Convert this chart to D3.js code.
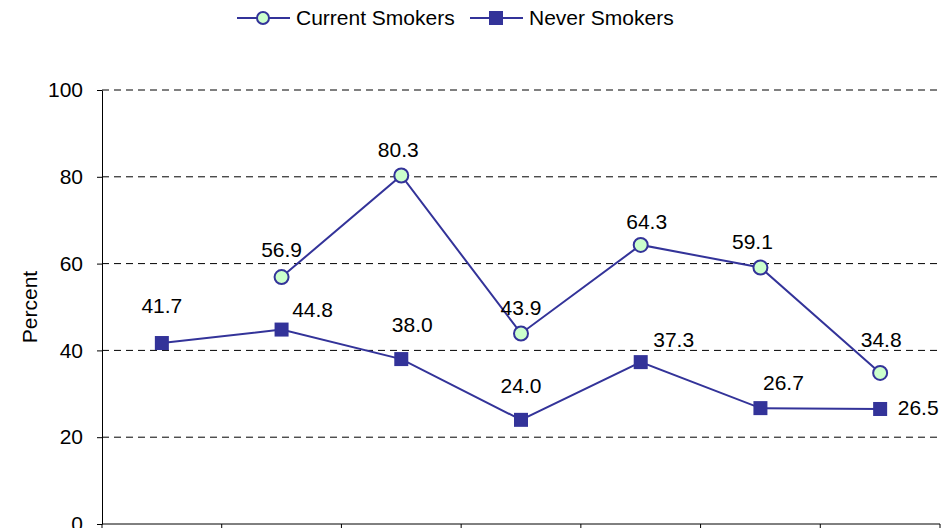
<!DOCTYPE html>
<html>
<head>
  <meta charset="utf-8">
  <title>Current vs Never Smokers</title>
  <style>
    body { margin: 0; background: #fff; }
    svg { display: block; font-family: Arial, "Liberation Sans", sans-serif; }
    .grid line { stroke: #000; stroke-dasharray: 7,5; stroke-width: 1; }
    .axis path, .axis line { stroke: #000; stroke-width: 1; }
    .axis text { font-size: 21px; fill: #000; }
    .lbl { font-size: 21px; fill: #000; }
  </style>
  <script src="https://d3js.org/d3.v7.min.js"></script>
</head>
<body>
<svg width="951" height="528"></svg>
<script>
// data
var categories = ["G1", "G2", "G3", "G4", "G5", "G6", "G7"];
var currentSmokers = [null, 56.9, 80.3, 43.9, 64.3, 59.1, 34.8];
var neverSmokers = [41.7, 44.8, 38.0, 24.0, 37.3, 26.7, 26.5];
var yTicks = [0, 20, 40, 60, 80, 100];

// label nudges (dx, dy from the marker) - Excel labels were moved by hand
var nudgeCurrent = [null, [0, -27], [-3, -26], [0, -26], [6, -23], [-8, -26], [1, -33]];
var nudgeNever = [[0, -37], [31, -20], [11, -34], [0, -34], [33, -22], [23, -25], [38, -1]];

var navy = "#333399", mint = "#ccffcc";

var svg = d3.select("svg"),
    margin = {top: 90, right: 11, bottom: 4, left: 102},
    width = +svg.attr("width") - margin.left - margin.right,
    height = +svg.attr("height") - margin.top - margin.bottom;

var x = d3.scaleBand().domain(categories).range([0, width]),
    y = d3.scaleLinear().domain([0, 100]).range([height, 0]);

var g = svg.append("g")
    .attr("transform", "translate(" + margin.left + "," + margin.top + ")");

// gridlines
g.append("g").attr("class", "grid")
  .selectAll("line")
  .data(yTicks.filter(function(d) { return d > 0; }))
  .enter().append("line")
    .attr("x1", 0).attr("x2", width)
    .attr("y1", function(d) { return y(d); })
    .attr("y2", function(d) { return y(d); });

// y axis
g.append("g")
    .attr("class", "axis")
    .call(d3.axisLeft(y).tickValues(yTicks).tickSize(5).tickPadding(14).tickSizeOuter(0));

// x axis with ticks at band boundaries
var xa = g.append("g").attr("class", "axis")
    .attr("transform", "translate(0," + height + ")");
xa.append("line").attr("x1", 0).attr("x2", width);
xa.selectAll(".tk")
  .data(categories.map(function(c) { return x(c); }).concat([width]))
  .enter().append("line")
    .attr("x1", function(d) { return d; }).attr("x2", function(d) { return d; })
    .attr("y1", 0).attr("y2", 6);

svg.append("text")
    .attr("class", "lbl")
    .attr("transform", "translate(37," + (margin.top + height / 2) + ") rotate(-90)")
    .attr("text-anchor", "middle")
    .text("Percent");

var cx = function(i) { return x(categories[i]) + x.bandwidth() / 2; };

function drawSeries(vals, nudge, marker) {
  var pts = vals.map(function(v, i) { return {i: i, v: v}; })
      .filter(function(d) { return d.v !== null; });

  g.append("path")
      .datum(pts)
      .attr("fill", "none")
      .attr("stroke", navy)
      .attr("stroke-width", 2)
      .attr("d", d3.line()
          .x(function(d) { return cx(d.i); })
          .y(function(d) { return y(d.v); }));

  if (marker === "circle") {
    g.selectAll(null).data(pts).enter().append("circle")
        .attr("cx", function(d) { return cx(d.i); })
        .attr("cy", function(d) { return y(d.v); })
        .attr("r", 7)
        .attr("fill", mint)
        .attr("stroke", navy)
        .attr("stroke-width", 2);
  } else {
    g.selectAll(null).data(pts).enter().append("rect")
        .attr("x", function(d) { return cx(d.i) - 7; })
        .attr("y", function(d) { return y(d.v) - 7; })
        .attr("width", 14).attr("height", 14)
        .attr("fill", navy);
  }

  g.selectAll(null).data(pts).enter().append("text")
      .attr("class", "lbl")
      .attr("text-anchor", "middle")
      .attr("dy", "0.35em")
      .attr("x", function(d) { return cx(d.i) + nudge[d.i][0]; })
      .attr("y", function(d) { return y(d.v) + nudge[d.i][1]; })
      .text(function(d) { return d.v.toFixed(1); });
}

drawSeries(neverSmokers, nudgeNever, "square");
drawSeries(currentSmokers, nudgeCurrent, "circle");

// legend
var legend = [
  {name: "Current Smokers", marker: "circle", x: 237},
  {name: "Never Smokers", marker: "square", x: 470}
];
var lg = svg.append("g").attr("transform", "translate(0,18)");
legend.forEach(function(d) {
  lg.append("line").attr("x1", d.x).attr("x2", d.x + 53)
      .attr("stroke", navy).attr("stroke-width", 2);
  if (d.marker === "circle") {
    lg.append("circle").attr("cx", d.x + 26).attr("r", 6)
        .attr("fill", mint).attr("stroke", navy).attr("stroke-width", 2);
  } else {
    lg.append("rect").attr("x", d.x + 19).attr("y", -7)
        .attr("width", 14).attr("height", 14).attr("fill", navy);
  }
  lg.append("text").attr("class", "lbl")
      .attr("x", d.x + 59).attr("dy", "0.35em")
      .text(d.name);
});
</script>
</body>
</html>
